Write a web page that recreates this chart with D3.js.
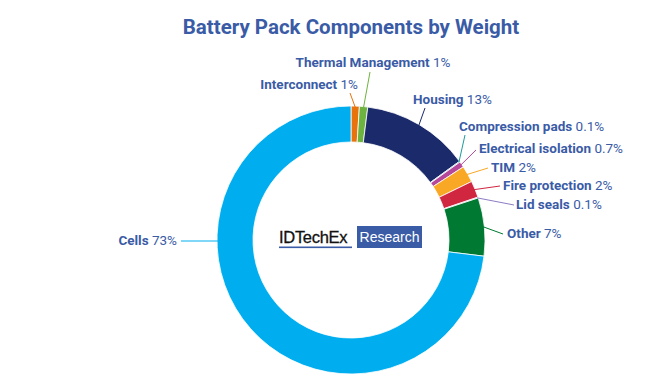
<!DOCTYPE html>
<head>
<meta charset="utf-8">
<style>
body { margin: 0; background: #fff; }
text { font-family: Roboto, "Noto Sans", sans-serif; }
</style>
</head>
<body>
<script src="https://cdn.jsdelivr.net/npm/d3@7"></script>
<script>

// chart data, clockwise from 12 o'clock
var categories = ["Interconnect", "Thermal Management", "Housing", "Compression pads",
                  "Electrical isolation", "TIM", "Fire protection", "Lid seals", "Other", "Cells"];
var shares = [1, 1, 13, 0.1, 0.7, 2, 2, 0.1, 7, 73];
var shareLabels = ["1%", "1%", "13%", "0.1%", "0.7%", "2%", "2%", "0.1%", "7%", "73%"];
var colors = ["#e8720c", "#6db33f", "#1b2a6b", "#1e9a9c", "#b5489a",
              "#f9a825", "#d0263f", "#8e7cc3", "#007a33", "#00aeef"];

// hand placed label layout: leader end point, text anchor point
// (horiz = leader leaves the ring horizontally instead of at the mid angle)
var labelLayout = [
  {lx: 350, ly: 93,  tx: 358, ty: 89,  anchor: "end"},
  {lx: 370, ly: 72,  tx: 373, ty: 67,  anchor: "middle"},
  {lx: 425, ly: 108, tx: 413, ty: 104, anchor: "start"},
  {lx: 465, ly: 135, tx: 459, ty: 131, anchor: "start"},
  {lx: 476, ly: 150, tx: 479, ty: 153, anchor: "start"},
  {lx: 488, ly: 168, tx: 491, ty: 172, anchor: "start"},
  {lx: 500, ly: 186, tx: 503, ty: 190, anchor: "start"},
  {lx: 514, ly: 205, tx: 516, ty: 209, anchor: "start"},
  {lx: 503, ly: 234, tx: 507, ty: 238, anchor: "start"},
  {lx: 181, ly: 241, tx: 177, ty: 245, anchor: "end", horiz: true}
];

var width = 661, height = 379;
var cx = 351, cy = 240, outerR = 134, innerR = 98;
var textColor = "#3a5ba6";

var svg = d3.select("body").append("svg")
    .attr("width", width)
    .attr("height", height);

// title
svg.append("text")
    .attr("x", cx)
    .attr("y", 34)
    .attr("text-anchor", "middle")
    .style("font-size", "20.5px")
    .style("font-weight", "bold")
    .style("fill", textColor)
    .text("Battery Pack Components by Weight");

var data = categories.map(function(c, i) {
  return {name: c, value: shares[i], label: shareLabels[i], color: colors[i], layout: labelLayout[i]};
});

var pie = d3.pie()
    .sort(null)
    .value(function(d) { return d.value; });

var arc = d3.arc()
    .innerRadius(innerR)
    .outerRadius(outerR);

var g = svg.append("g")
    .attr("transform", "translate(" + cx + "," + cy + ")");

var arcs = pie(data);

g.selectAll("path")
    .data(arcs)
  .enter().append("path")
    .attr("d", arc)
    .style("fill", function(d) { return d.data.color; })
    .style("stroke", "#fff")
    .style("stroke-width", 0.8);

// leader lines start on the outer edge
function leaderStart(d) {
  var L = d.data.layout;
  if (L.horiz) {
    var dy = L.ly - cy;
    var dx = Math.sqrt(outerR * outerR - dy * dy);
    return [L.lx < cx ? -dx + 1 : dx - 1, dy];
  }
  var a = (d.startAngle + d.endAngle) / 2;
  return [(outerR - 1) * Math.sin(a), -(outerR - 1) * Math.cos(a)];
}

g.selectAll("line")
    .data(arcs)
  .enter().append("line")
    .attr("x1", function(d) { return leaderStart(d)[0]; })
    .attr("y1", function(d) { return leaderStart(d)[1]; })
    .attr("x2", function(d) { return d.data.layout.lx - cx; })
    .attr("y2", function(d) { return d.data.layout.ly - cy; })
    .style("stroke", function(d) { return d.data.color; })
    .style("stroke-width", 1);

var labels = svg.selectAll(".lbl")
    .data(data)
  .enter().append("text")
    .attr("class", "lbl")
    .attr("x", function(d) { return d.layout.tx; })
    .attr("y", function(d) { return d.layout.ty; })
    .attr("text-anchor", function(d) { return d.layout.anchor; })
    .style("font-size", "13.5px")
    .style("fill", textColor);

labels.append("tspan")
    .style("font-weight", "bold")
    .text(function(d) { return d.name + " "; });

labels.append("tspan")
    .text(function(d) { return d.label; });

// logo in the middle
svg.append("text")
    .attr("x", 279)
    .attr("y", 243)
    .style("font-size", "16.5px")
    .style("font-family", "Arial, 'Liberation Sans', sans-serif")
    .style("fill", "#111")
    .style("stroke", "#111")
    .style("stroke-width", 0.3)
    .style("letter-spacing", "-0.3px")
    .text("IDTechEx");

svg.append("rect")
    .attr("x", 279)
    .attr("y", 246.5)
    .attr("width", 73)
    .attr("height", 1.6)
    .style("fill", "#3a5ba6");

svg.append("rect")
    .attr("x", 357)
    .attr("y", 226)
    .attr("width", 65)
    .attr("height", 22)
    .style("fill", "#3a5ba6");

svg.append("text")
    .attr("x", 389.5)
    .attr("y", 242)
    .attr("text-anchor", "middle")
    .style("font-size", "14px")
    .style("font-family", "Arial, 'Liberation Sans', sans-serif")
    .style("fill", "#fff")
    .text("Research");

</script>
</body>
